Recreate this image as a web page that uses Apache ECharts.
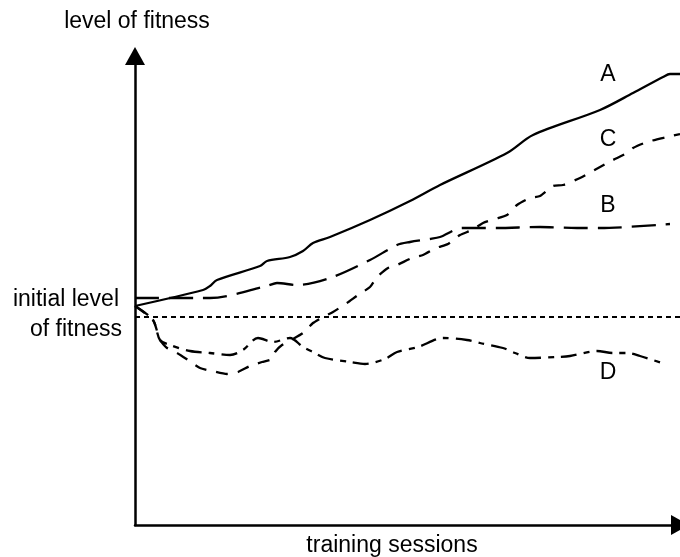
<!DOCTYPE html>
<html>
<head>
<meta charset="utf-8">
<script src="https://cdn.jsdelivr.net/npm/echarts@6/dist/echarts.min.js"></script>
<style>
html,body{margin:0;padding:0;background:#fff;}
#c{width:680px;height:557px;}
</style>
</head>
<body>
<div id="c"></div>
<script>
// Training sessions (x) and level of fitness (y)
var aSessions = [0,13.6,15,16.4,25,26.4,31,33.6,35.6,39,47,55,61,74.4,79.6,93,99.6,105.6,107,109];
var aFitness  = [43.8,47,47.8,49,51.8,52.8,53.6,54.8,56.4,57.6,61,64.8,68,74.4,78,83,86.4,89.6,90.2,90.2];

var bSessions = [0,13,15,26.4,28.4,32.4,39,47,52.4,55,59,61,65.4,72.4,81,88.4,93,107];
var bFitness  = [45.4,45.4,45.4,47.8,48.4,48,49.4,53,56,56.6,57.2,57.6,59.4,59.4,59.6,59.4,59.4,60.2];

var cSessions = [0,3.6,5,6.4,8.4,10.6,13,15.4,18.4,20.6,23,25.4,27.4,28,29.4,31.6,33.6,35.6,37.6,39.6,42.4,44.6,47,48.4,50.6,52.4,55.4,57.6,60.2,62.6,65,67.4,69.6,72,74.4,76.4,79,81,83.6,85.6,89,93,95.6,98.4,99.6,102.4,106.4,109];
var cFitness  = [43.8,41,37,35.4,34.4,33,31.4,30.8,30.2,30.6,31.8,32.6,33.2,34.6,36,37.2,38.4,40.4,41.6,42.6,44.4,46,47.6,49.6,51.4,52,53.4,54,55.4,56.2,58,59,60.4,61.2,62,64,65.4,65.8,67.8,68,69.4,71.6,73,74.4,75.4,76.6,77.6,78.2];

var dSessions = [0,3.6,5,7,11,15,19,21.6,24.6,27.6,31,33.6,35.6,38,43,46,50,52.4,56.6,61.6,66.4,69,73.6,76,79,84.4,87,92.4,95.6,98.6,101,105.4];
var dFitness  = [43.8,41,37,36,34.8,34.4,34,35,37.4,36.6,37.4,35.6,34.6,33.4,32.6,32.2,33.2,34.6,35.6,37.4,37,36.4,35.4,34.4,33.4,33.6,33.8,34.8,34.4,34.4,33.8,32.4];

var initialSessions = [0,109];
var initialFitness  = [41.6,41.6];

var xMax = 109, yMax = 93.8;

var curveLabels = ['A','B','C','D'];
var axisTitles = ['level of fitness','training sessions'];
var initialLabel = ['initial level','of fitness'];

function pairs(xs, ys){ return xs.map(function(x,i){ return [x, ys[i]]; }); }

var chart = echarts.init(document.getElementById('c'), null, {renderer:'canvas'});
var font = 'Liberation Sans, Arial, sans-serif';
var fs = 23;

function lineSeries(name, xs, ys, type, smooth, w){
  return {
    name: name, type: 'line', data: pairs(xs, ys), showSymbol: false, symbol: 'none',
    smooth: smooth, silent: true,
    lineStyle: {color:'#000', width: w || 2.3, type: type, cap: 'butt'}
  };
}

function label(text, x, y, align){
  return {type:'text', x:x, y:y, silent:true,
    style:{text:text, font: fs+'px '+font, fill:'#000', textAlign: align || 'center', textVerticalAlign:'middle'}};
}

chart.setOption({
  animation: false,
  backgroundColor: '#fff',
  grid: {left: 135, right: 0, top: 56, bottom: 32, containLabel: false},
  xAxis: {
    type: 'value', min: 0, max: xMax,
    axisLine: {show: true, symbol: ['none','triangle'], symbolSize: [20,18], lineStyle: {color:'#000', width: 2.5}},
    axisTick: {show: false}, axisLabel: {show: false}, splitLine: {show: false}
  },
  yAxis: {
    type: 'value', min: 0, max: yMax,
    axisLine: {show: true, symbol: ['none','triangle'], symbolSize: [20,18], lineStyle: {color:'#000', width: 2.5}},
    axisTick: {show: false}, axisLabel: {show: false}, splitLine: {show: false}
  },
  series: [
    lineSeries('initial', initialSessions, initialFitness, [5,4], false, 2),
    lineSeries('A', aSessions, aFitness, 'solid', 0.3),
    lineSeries('B', bSessions, bFitness, [24,10], 0.3),
    lineSeries('C', cSessions, cFitness, [12,10], 0.2),
    lineSeries('D', dSessions, dFitness, [16,7,6,7], 0.3)
  ],
  graphic: [
    label(axisTitles[0], 137, 22),
    label(axisTitles[1], 392, 546),
    label(initialLabel[0], 119, 300, 'right'),
    label(initialLabel[1], 122, 330, 'right'),
    label(curveLabels[0], 608, 75),
    label(curveLabels[1], 608, 206),
    label(curveLabels[2], 608, 140),
    label(curveLabels[3], 608, 373)
  ]
});
</script>
</body>
</html>
